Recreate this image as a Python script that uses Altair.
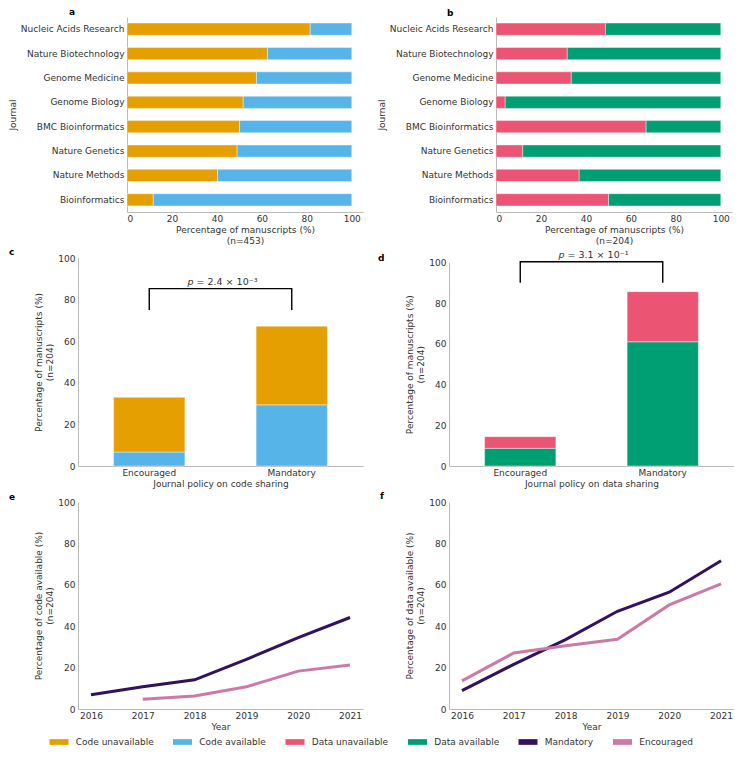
import altair as alt
import pandas as pd

# ---------------- data ----------------
journals = ["Nucleic Acids Research", "Nature Biotechnology", "Genome Medicine",
            "Genome Biology", "BMC Bioinformatics", "Nature Genetics",
            "Nature Methods", "Bioinformatics"]
code_unavailable_by_journal = [81.5, 62.5, 57.6, 51.7, 50.1, 49.0, 40.3, 11.7]
code_available_by_journal = [18.5, 37.5, 42.4, 48.3, 49.9, 51.0, 59.7, 88.3]
data_unavailable_by_journal = [48.7, 31.7, 33.5, 4.1, 66.8, 11.9, 37.0, 50.1]
data_available_by_journal = [51.3, 68.3, 66.5, 95.9, 33.2, 88.1, 63.0, 49.9]

policies = ["Encouraged", "Mandatory"]
code_available_by_policy = [6.7, 29.4]
code_unavailable_by_policy = [26.3, 37.8]
data_available_by_policy = [8.7, 61.0]
data_unavailable_by_policy = [5.7, 24.6]

bracket_c = [75, 85.3, 85.3, 75]
bracket_d = [90, 100.3, 100.3, 90]
p_text_c = "= 2.4 × 10⁻³"
p_text_d = "= 3.1 × 10⁻¹"

years = [2016, 2017, 2018, 2019, 2020, 2021]
code_mandatory = [6.9, 10.7, 14.1, 24.0, 34.5, 44.2]
code_encouraged = [None, 4.7, 6.3, 10.7, 18.3, 21.3]
data_mandatory = [8.9, 21.6, 33.5, 47.2, 56.4, 71.6]
data_encouraged = [13.6, 27.1, 30.6, 33.7, 50.3, 60.5]

categories = ["Code unavailable", "Code available", "Data unavailable",
              "Data available", "Mandatory", "Encouraged"]
palette = ["#E69F00", "#56B4E9", "#EB5472", "#009E73", "#32115E", "#CC79A7"]
panel_letters = ["a", "b", "c", "d", "e", "f"]

# ---------------- styling ----------------
FONT = "DejaVu Sans"
TXT = "#333333"
W = 285          # panel plot width
PAD_J = 49       # inner left gap of the journal panels
color_scale = alt.Scale(domain=categories, range=palette)
legend = alt.Legend(orient="none", legendX=-24, legendY=720, direction="horizontal",
                    title=None, symbolType="M-2,-0.6H2V0.6H-2Z", symbolSize=90.25,
                    symbolStrokeWidth=0, symbolOpacity=1, labelOffset=11.75,
                    columnPadding=18.5, labelFontSize=9, labelColor=TXT, labelFont=FONT,
                    padding=0)
band = alt.Scale(paddingInner=0.5, paddingOuter=0.25)
ticks100 = [0, 20, 40, 60, 80, 100]


def letter(t, x, y):
    return alt.Chart(pd.DataFrame({"t": [t]})).mark_text(
        align="left", baseline="alphabetic", fontSize=9, fontWeight="bold",
        font=FONT, color="#000").encode(x=alt.value(x), y=alt.value(y), text="t:N")


def journal_panel(unavail, avail, labels, n_label, let, lx, ly, h):
    df = pd.DataFrame({
        "Journal": journals * 2,
        "cat": [labels[0]] * len(journals) + [labels[1]] * len(journals),
        "pct": unavail + avail,
        "ord": [0] * len(journals) + [1] * len(journals),
    })
    bars = alt.Chart(df).mark_bar(stroke="white", strokeWidth=0.4).encode(
        y=alt.Y("Journal:N", sort=journals, scale=band,
                axis=alt.Axis(title="Journal", offset=-PAD_J, labelPadding=3,
                              titlePadding=3)),
        x=alt.X("pct:Q", stack="zero",
                scale=alt.Scale(domain=[0, 105], range=[PAD_J, W], nice=False),
                axis=alt.Axis(values=ticks100,
                              title=["Percentage of manuscripts (%)", n_label])),
        color=alt.Color("cat:N", scale=color_scale, legend=legend),
        order=alt.Order("ord:Q"),
    )
    return alt.layer(bars, letter(let, lx, ly)).properties(width=W, height=h)


def policy_panel(avail, unavail, labels, bracket, ptxt, xtitle, let, lx, ly, h, top):
    df = pd.DataFrame({
        "policy": policies * 2,
        "cat": [labels[0]] * 2 + [labels[1]] * 2,
        "pct": avail + unavail,
        "ord": [0, 0, 1, 1],
    })
    x = alt.X("policy:N", sort=policies, scale=band,
              axis=alt.Axis(labelAngle=0, title=xtitle))
    y_scale = alt.Scale(domain=[0, 100], nice=False, range=[h, top])
    bars = alt.Chart(df).mark_bar(stroke="white", strokeWidth=0.4).encode(
        x=x,
        y=alt.Y("pct:Q", stack="zero", scale=y_scale,
                axis=alt.Axis(values=ticks100, labelPadding=3, titlePadding=3,
                              title=["Percentage of manuscripts (%)", "(n=204)"])),
        color=alt.Color("cat:N", scale=color_scale, legend=legend),
        order=alt.Order("ord:Q"),
    )
    bdf = pd.DataFrame({"policy": [policies[0], policies[0], policies[1], policies[1]],
                        "y": bracket, "k": [0, 1, 2, 3]})
    br = alt.Chart(bdf).mark_line(color="black", strokeWidth=1.4, strokeJoin="miter").encode(
        x=x, y="y:Q", order="k:Q")
    tdf = pd.DataFrame({"policy": [policies[0]], "y": [bracket[1]], "t": [ptxt], "p": ["p"]})
    t1 = alt.Chart(tdf).mark_text(align="left", baseline="bottom", dx=71.25 - 24, dy=-2,
                                  fontSize=9.5, font=FONT, color=TXT).encode(
        x=x, y="y:Q", text="t:N")
    t2 = alt.Chart(tdf).mark_text(align="right", baseline="bottom", dx=71.25 - 27, dy=-2,
                                  fontSize=9.5, font=FONT, fontStyle="italic", color=TXT).encode(
        x=x, y="y:Q", text="p:N")
    return alt.layer(bars, br, t1, t2, letter(let, lx, ly)).properties(width=W, height=h)


def trend_panel(mand, enc, ytitle, let, lx, ly, h):
    rows = []
    for yr, v in zip(years, mand):
        if v is not None:
            rows.append({"year": yr, "cat": "Mandatory", "v": v})
    for yr, v in zip(years, enc):
        if v is not None:
            rows.append({"year": yr, "cat": "Encouraged", "v": v})
    df = pd.DataFrame(rows)
    lines = alt.Chart(df).mark_line(strokeWidth=3).encode(
        x=alt.X("year:Q", scale=alt.Scale(domain=[2015.75, 2021.25], nice=False, zero=False),
                axis=alt.Axis(values=years, format="d", title="Year")),
        y=alt.Y("v:Q", scale=alt.Scale(domain=[0, 100], nice=False),
                axis=alt.Axis(values=ticks100, labelPadding=3, titlePadding=3,
                              title=[ytitle, "(n=204)"])),
        color=alt.Color("cat:N", scale=color_scale, legend=legend),
    )
    return alt.layer(lines, letter(let, lx, ly)).properties(width=W, height=h)


a = journal_panel(code_unavailable_by_journal, code_available_by_journal,
                  ["Code unavailable", "Code available"], "(n=453)",
                  panel_letters[0], -9, -2, 195)
b = journal_panel(data_unavailable_by_journal, data_available_by_journal,
                  ["Data unavailable", "Data available"], "(n=204)",
                  panel_letters[1], 0, -1.5, 195)
c = policy_panel(code_available_by_policy, code_unavailable_by_policy,
                 ["Code available", "Code unavailable"], bracket_c, p_text_c,
                 "Journal policy on code sharing", panel_letters[2], -69, -3, 208, 0)
d = policy_panel(data_available_by_policy, data_unavailable_by_policy,
                 ["Data available", "Data unavailable"], bracket_d, p_text_d,
                 "Journal policy on data sharing", panel_letters[3], -71, 2.5, 208, 4.4)
e = trend_panel(code_mandatory, code_encouraged, "Percentage of code available (%)",
                panel_letters[4], -69, -2, 207)
f = trend_panel(data_mandatory, data_encouraged, "Percentage of data available (%)",
                panel_letters[5], -69, -3.5, 207)

chart = alt.vconcat(
    alt.hconcat(a, b, spacing=14),
    alt.hconcat(c, d, spacing=15),
    alt.hconcat(e, f, spacing=17),
    spacing=3,
).properties(padding=0, background="white").configure_view(stroke=None).configure_axis(
    domainColor="#bbbbbb", domainWidth=1, ticks=False, grid=False,
    labelFont=FONT, titleFont=FONT, labelFontSize=9, titleFontSize=9,
    labelColor=TXT, titleColor=TXT, titleFontWeight="normal",
    labelPadding=2, titlePadding=2, titleLineHeight=11,
)

chart.save("out.html", embed_options={"renderer": "svg", "actions": False})
